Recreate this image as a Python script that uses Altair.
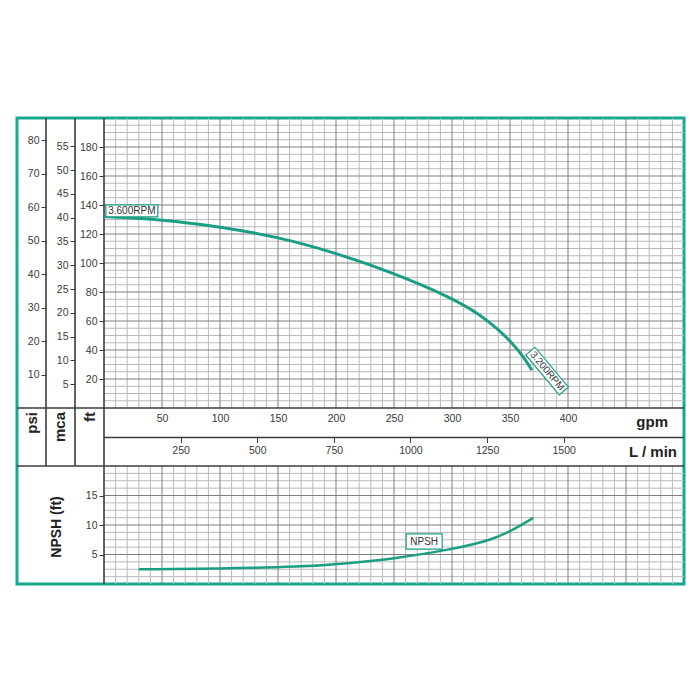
import altair as alt
import pandas as pd

# ---------------- data ----------------
head_gpm = [0, 50, 100, 150, 200, 250, 300, 325, 340, 350, 362, 369]
head_ft = [132, 130, 125, 118, 107, 93, 76, 64, 54, 46.5, 35, 26]

npsh_gpm = [30, 100, 170, 210, 250, 300, 335, 353, 370]
npsh_ft = [2.5, 2.6, 2.9, 3.5, 4.3, 5.85, 7.5, 9.2, 11.2]

rpm_text = ["3.600RPM", "3.200RPM"]
rpm_gpm = [24, 382]
rpm_ft = [136, 25.5]
rpm_angle = [0, 50]

npsh_text = ["NPSH"]
npsh_lbl_gpm = [276]
npsh_lbl_ft = [7.2]

gpm_ticks = [50, 100, 150, 200, 250, 300, 350, 400]
lpm_ticks = [250, 500, 750, 1000, 1250, 1500]
ft_ticks = [20, 40, 60, 80, 100, 120, 140, 160, 180]
psi_ticks = [10, 20, 30, 40, 50, 60, 70, 80]
mca_ticks = [5, 10, 15, 20, 25, 30, 35, 40, 45, 50, 55]
npsh_ticks = [5, 10, 15]

gpm_major = [50, 100, 150, 200, 250, 300, 350, 400, 450]
gpm_minor = [v for v in range(10, 500, 10) if v % 50 != 0]
ft_major = ft_ticks
ft_minor = [v for v in range(5, 200, 5) if v % 20 != 0]
npsh_major = npsh_ticks
npsh_minor = [k * 1.25 for k in range(1, 16) if k % 4 != 0]

# unit conversions
LPM_PER_GPM = 3.785411784
FT_PER_PSI = 2.306658
FT_PER_M = 3.28084

# ---------------- layout / style ----------------
W, H = 667, 466
X0, X1 = 87, 667          # gpm 0 .. 500
Y_FT0 = 290               # ft = 0 line
Y_MID = 319.5             # line between gpm and L/min rows
Y_BAND = 348              # top of NPSH panel
COL1, COL2 = 29, 58

TEAL = "#1a9e84"
FRAME = "#17a98f"
GRID_MINOR = "#bababa"
GRID_MAJOR = "#7e7e7e"
LINE = "#3c3c3c"
LABEL = "#3a3a3a"
FONT = "Liberation Sans"

X_GPM = alt.Scale(domain=[0, 500], range=[X0, X1], nice=False, zero=False)
X_LPM = alt.Scale(domain=[0, 500 * LPM_PER_GPM], range=[X0, X1], nice=False, zero=False)
Y_FT = alt.Scale(domain=[0, 200], range=[Y_FT0, 0], nice=False, zero=False)
Y_PSI = alt.Scale(domain=[0, 200 / FT_PER_PSI], range=[Y_FT0, 0], nice=False, zero=False)
Y_MCA = alt.Scale(domain=[0, 200 / FT_PER_M], range=[Y_FT0, 0], nice=False, zero=False)
Y_NPSH = alt.Scale(domain=[0, 20], range=[H, Y_BAND], nice=False, zero=False)

one = pd.DataFrame({"k": [0]})


def left_axis(values, offset):
    return alt.Axis(orient="left", offset=-offset, values=values, tickSize=5,
                    tickColor=LINE, tickWidth=1, domain=False, grid=False,
                    labelFontSize=10.5, labelColor=LABEL, labelPadding=2,
                    labelFont=FONT, title=None, format="d")


def vgrid(values, color, y0, y1):
    return alt.Chart(pd.DataFrame({"gpm": values})).mark_rule(
        color=color, strokeWidth=1).encode(
        x=alt.X("gpm:Q", scale=X_GPM, axis=None),
        y=alt.value(y0), y2=alt.value(y1))


def hgrid(values, field, scale, color):
    return alt.Chart(pd.DataFrame({field: values})).mark_rule(
        color=color, strokeWidth=1).encode(
        y=alt.Y(f"{field}:Q", scale=scale, axis=None),
        x=alt.value(X0), x2=alt.value(X1))


def struct_v(x, y0, y1):
    return alt.Chart(one).mark_rule(color=LINE, strokeWidth=1.6).encode(
        x=alt.value(x), y=alt.value(y0), y2=alt.value(y1))


def struct_h(y, x0, x1):
    return alt.Chart(one).mark_rule(color=LINE, strokeWidth=1.6).encode(
        y=alt.value(y), x=alt.value(x0), x2=alt.value(x1))


def label(text, x, y, size=15, angle=0, align="center"):
    return alt.Chart(pd.DataFrame({"t": [text]})).mark_text(
        fontSize=size, fontWeight="bold", font=FONT, color="#222",
        angle=angle, align=align, baseline="middle").encode(
        x=alt.value(x), y=alt.value(y), text="t:N")


layers = [
    # grids
    vgrid(gpm_minor, GRID_MINOR, 0, Y_FT0),
    vgrid(gpm_minor, GRID_MINOR, Y_BAND, H),
    hgrid(ft_minor, "ft", Y_FT, GRID_MINOR),
    hgrid(npsh_minor, "npsh", Y_NPSH, GRID_MINOR),
    vgrid(gpm_major, GRID_MAJOR, 0, Y_FT0),
    vgrid(gpm_major, GRID_MAJOR, Y_BAND, H),
    hgrid(ft_major, "ft", Y_FT, GRID_MAJOR),
    hgrid(npsh_major, "npsh", Y_NPSH, GRID_MAJOR),
    # structure lines
    struct_v(COL1, 0, Y_BAND),
    struct_v(COL2, 0, Y_BAND),
    struct_v(X0, 0, H),
    struct_h(Y_FT0, 0, W),
    struct_h(Y_MID, X0, W),
    struct_h(Y_BAND, 0, W),
]

# extra axes (psi, mca, L/min)
layers.append(alt.Chart(pd.DataFrame({"psi": psi_ticks})).mark_point(opacity=0).encode(
    y=alt.Y("psi:Q", scale=Y_PSI, axis=left_axis(psi_ticks, COL1))))
layers.append(alt.Chart(pd.DataFrame({"mca": mca_ticks})).mark_point(opacity=0).encode(
    y=alt.Y("mca:Q", scale=Y_MCA, axis=left_axis(mca_ticks, COL2))))
layers.append(alt.Chart(pd.DataFrame({"lpm": lpm_ticks})).mark_point(opacity=0).encode(
    x=alt.X("lpm:Q", scale=X_LPM, axis=alt.Axis(
        orient="bottom", offset=-(H - Y_MID), values=lpm_ticks, tickSize=5,
        tickColor=LINE, domain=False, grid=False, labelFontSize=10.5,
        labelColor=LABEL, labelPadding=3, labelFont=FONT, title=None,
        format="d"))))

# head curve with gpm and ft axes
layers.append(alt.Chart(pd.DataFrame({"gpm": head_gpm, "ft": head_ft})).mark_line(
    color=TEAL, strokeWidth=3, interpolate="basis").encode(
    x=alt.X("gpm:Q", scale=X_GPM, axis=alt.Axis(
        orient="bottom", offset=-(H - Y_FT0), values=gpm_ticks, ticks=False,
        tickSize=0, domain=False, grid=False, labelFontSize=10.5,
        labelColor=LABEL, labelPadding=5, labelFont=FONT, title=None,
        format="d")),
    y=alt.Y("ft:Q", scale=Y_FT, axis=left_axis(ft_ticks, X0))))

# NPSH curve with its axis
layers.append(alt.Chart(pd.DataFrame({"gpm": npsh_gpm, "npsh": npsh_ft})).mark_line(
    color=TEAL, strokeWidth=2.5, interpolate="basis").encode(
    x=alt.X("gpm:Q", scale=X_GPM, axis=None),
    y=alt.Y("npsh:Q", scale=Y_NPSH, axis=left_axis(npsh_ticks, X0))))

# curve labels (boxes + text)
rpm_df = pd.DataFrame({"gpm": rpm_gpm, "ft": rpm_ft, "label": rpm_text, "angle": rpm_angle})
layers.append(alt.Chart(rpm_df).mark_point(
    shape="M-1,-0.23L1,-0.23L1,0.23L-1,0.23Z", size=2704, filled=True,
    fill="white", stroke=TEAL, strokeWidth=1.2, opacity=1).encode(
    x=alt.X("gpm:Q", scale=X_GPM, axis=None),
    y=alt.Y("ft:Q", scale=Y_FT, axis=None),
    angle=alt.Angle("angle:Q", scale=None)))
layers.append(alt.Chart(rpm_df).mark_text(
    fontSize=10, font=FONT, color="#333", align="center", baseline="middle").encode(
    x=alt.X("gpm:Q", scale=X_GPM, axis=None),
    y=alt.Y("ft:Q", scale=Y_FT, axis=None),
    text="label:N",
    angle=alt.Angle("angle:Q", scale=None)))

npsh_df = pd.DataFrame({"gpm": npsh_lbl_gpm, "npsh": npsh_lbl_ft, "label": npsh_text})
layers.append(alt.Chart(npsh_df).mark_point(
    shape="M-1,-0.42L1,-0.42L1,0.42L-1,0.42Z", size=1296, filled=True,
    fill="white", stroke=TEAL, strokeWidth=1.2, opacity=1).encode(
    x=alt.X("gpm:Q", scale=X_GPM, axis=None),
    y=alt.Y("npsh:Q", scale=Y_NPSH, axis=None)))
layers.append(alt.Chart(npsh_df).mark_text(
    fontSize=10, font=FONT, color="#333", align="center", baseline="middle").encode(
    x=alt.X("gpm:Q", scale=X_GPM, axis=None),
    y=alt.Y("npsh:Q", scale=Y_NPSH, axis=None),
    text="label:N"))

# band titles
layers += [
    label("psi", 15, 294, angle=270, align="right"),
    label("mca", 43, 294, angle=270, align="right"),
    label("ft", 73, 294, angle=270, align="right"),
    label("gpm", 651, 304, align="right"),
    label("L / min", 660, 334, align="right"),
    label("NPSH (ft)", 40, 409, size=14, angle=270),
]

chart = alt.layer(*layers).resolve_scale(
    x="independent", y="independent"
).properties(
    width=W, height=H,
    padding={"left": 9, "top": 110, "right": 5, "bottom": 5},
    autosize=alt.AutoSizeParams(type="none"),
).configure(
    font=FONT,
    view=alt.ViewConfig(stroke=FRAME, strokeWidth=3),
)

chart.save("out.html", embed_options={"renderer": "svg", "actions": False})
